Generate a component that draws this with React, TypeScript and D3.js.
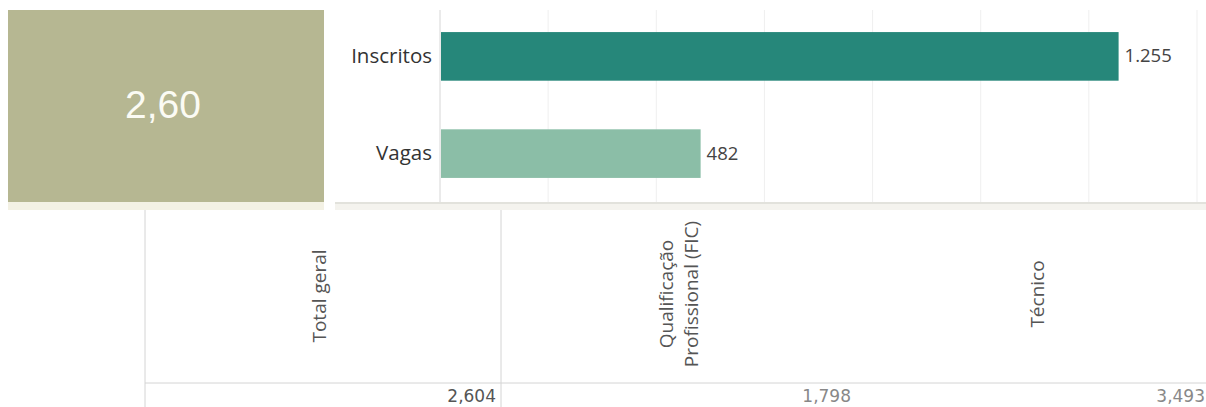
import React from "react";
import * as d3 from "d3";

const categories = ["Inscritos", "Vagas"];
const values = [1255, 482];
const valueLabels = ["1.255", "482"];
const barColors = ["#26877a", "#8bbea7"];
const ratioLabel = "2,60";
const xTicks = [0, 200, 400, 600, 800, 1000, 1200, 1400];
const tableHeaders = [["Total geral"], ["Qualificação", "Profissional (FIC)"], ["Técnico"]];
const tableValues = ["2,604", "1,798", "3,493"];

const W = 1206;
const H = 407;
const FONT = "'Open Sans', 'Noto Sans', sans-serif";

export default function App() {
  const x = d3.scaleLinear().domain([0, 1400]).range([440, 1197]);
  const y = d3.scaleBand<string>().domain(categories).range([10, 200]).paddingInner(0.5).paddingOuter(0.227);

  const headerX = [321, 680, 1039];
  const valueX = [496, 851, 1205];

  return (
    <svg width={W} height={H} style={{ position: "absolute", left: 0, top: 0, background: "#fff" }}>
      {/* KPI box */}
      <rect x={8} y={10} width={316} height={192} fill="#b6b792" />
      <rect x={8} y={202} width={316} height={8} fill="#f3f1e4" />
      <text x={163} y={108} textAnchor="middle" dominantBaseline="middle" fill="#fbfbf4" fontSize={39} fontFamily="'Liberation Sans', Arial, sans-serif">
        {ratioLabel}
      </text>

      {/* bar panel */}
      <rect x={335} y={10} width={W - 335} height={192} fill="#fff" />
      <rect x={335} y={202} width={W - 335} height={8} fill="#f4f3ee" />
      <line x1={335} x2={W} y1={203} y2={203} stroke="#dddcd6" strokeWidth={1.5} />
      {xTicks.map((t) => (
        <line key={t} x1={x(t)} x2={x(t)} y1={10} y2={202} stroke={t === 0 ? "#d6d6d6" : "#efefef"} strokeWidth={1} />
      ))}
      {categories.map((c, i) => (
        <g key={c}>
          <rect x={x(0) + 1} y={y(c)!} width={x(values[i]) - x(0) - 1} height={y.bandwidth()} fill={barColors[i]} />
          <text x={432} y={y(c)! + y.bandwidth() / 2 + 1} textAnchor="end" dominantBaseline="middle" fontSize={20.5} fill="#333" fontFamily={FONT}>
            {c}
          </text>
          <text x={x(values[i]) + 6} y={y(c)! + y.bandwidth() / 2 + 1} dominantBaseline="middle" fontSize={18.5} fill="#444" fontFamily={FONT}>
            {valueLabels[i]}
          </text>
        </g>
      ))}

      {/* table */}
      <line x1={145} x2={145} y1={210} y2={H} stroke="#d4d4d4" />
      <line x1={501} x2={501} y1={210} y2={H} stroke="#d4d4d4" />
      <line x1={145} x2={W} y1={383} y2={383} stroke="#d4d4d4" />
      {tableHeaders.map((lines, i) =>
        lines.map((ln, j) => {
          const lx = headerX[i] + (j - (lines.length - 1) / 2) * 25;
          return (
            <text
              key={i + "-" + j}
              transform={`translate(${lx},${i === 0 ? 296 : 294}) rotate(-90)`}
              textAnchor="middle"
              dominantBaseline="middle"
              fontSize={19}
              fill="#555"
              fontFamily={FONT}
            >
              {ln}
            </text>
          );
        })
      )}
      {tableValues.map((v, i) => (
        <text key={v} x={valueX[i]} y={402} textAnchor="end" fontSize={17} fill={i === 0 ? "#555" : "#888"} fontFamily="'DejaVu Sans', sans-serif">
          {v}
        </text>
      ))}
    </svg>
  );
}
